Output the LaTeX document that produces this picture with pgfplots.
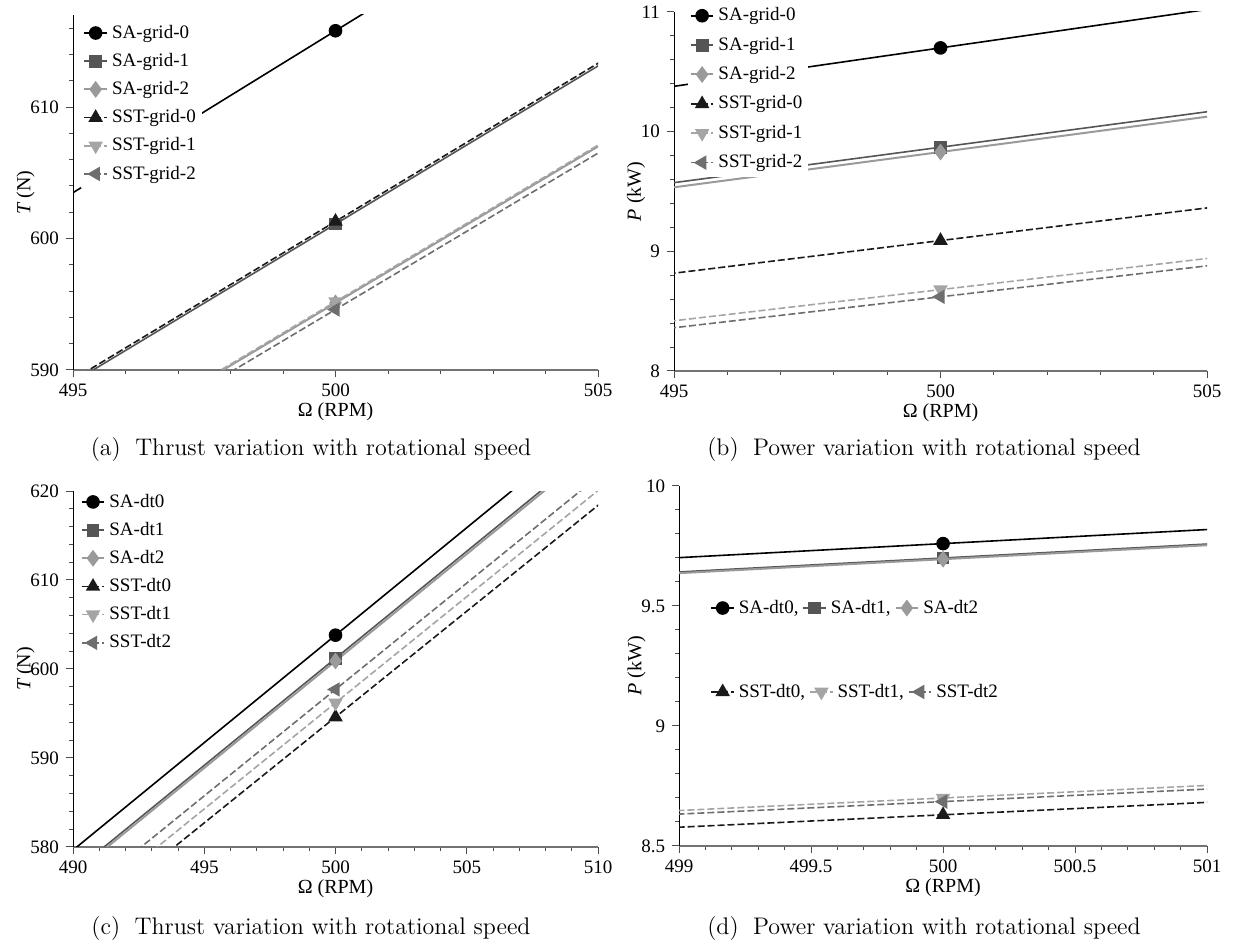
\documentclass[border=0pt]{standalone}
\usepackage{pgfplots}
\pgfplotsset{compat=1.18}
\usepackage{fontspec}
\newfontfamily\tnr{Liberation Serif}

\definecolor{darkg}{HTML}{555555}
\definecolor{lightg}{HTML}{9A9A9A}
\definecolor{nblack}{HTML}{1A1A1A}
\definecolor{lightg2}{HTML}{A5A5A5}
\definecolor{midg}{HTML}{6E6E6E}

\pgfplotsset{
  every axis/.append style={
    scale only axis,
    axis x line=bottom, axis y line=left,
    axis line style={-},
    x axis line style={draw=black!55, line width=0.9pt},
    tick align=outside, major tick length=3.5pt, minor tick length=2pt,
    tick style={black!70, line width=0.5pt},
    tick label style={font=\tnr\fontsize{9.5}{11}\selectfont},
    label style={font=\tnr\fontsize{10}{12}\selectfont},
    xlabel style={yshift=4pt},
    ylabel style={yshift=-9pt},
    legend cell align=left,
    legend style={draw=none, fill=white, font=\tnr\fontsize{9.5}{11}\selectfont, row sep=2pt, inner sep=1pt},
  },
  legend image code/.code={\draw[mark repeat=2,mark phase=2] plot coordinates {(0cm,0cm) (0.2cm,0cm) (0.4cm,0cm)};},
  sa0/.style={black, line width=0.8pt, mark=*, mark size=3pt, mark options={solid, fill=black}},
  sa1/.style={darkg, line width=0.8pt, mark=square*, mark size=2.8pt, mark options={solid, fill=darkg}},
  sa2/.style={lightg, line width=1pt, mark=diamond*, mark size=3.4pt, mark options={solid, fill=lightg}},
  sst0/.style={nblack, line width=0.8pt, dash pattern=on 3.5pt off 1.5pt, mark=triangle*, mark size=3.4pt, mark options={solid, fill=nblack}},
  sst1/.style={lightg2, line width=0.8pt, dash pattern=on 3.5pt off 1.5pt, mark=triangle*, mark size=3.4pt, mark options={solid, fill=lightg2, rotate=180}},
  sst2/.style={midg, line width=0.8pt, dash pattern=on 3.5pt off 1.5pt, mark=triangle*, mark size=3.4pt, mark options={solid, fill=midg, rotate=90}},
  ln/.style={forget plot, mark=none},
}

\begin{document}
\begin{tikzpicture}
\path[use as bounding box] (0,0) rectangle (619pt,471.5pt);

% (a) thrust, grid study
\begin{axis}[
  at={(36.5pt,286.5pt)}, anchor=south west, width=262.5pt, height=177.5pt,
  xmin=495, xmax=505, ymin=590, ymax=617,
  xtick={495,500,505}, xticklabels={495,500,505},
  minor xtick={496,497,498,499,501,502,503,504},
  ytick={590,600,610}, yticklabels={590,600,610},
  minor ytick={592,594,596,598,602,604,606,608,612,614,616},
  xlabel={Ω (RPM)}, ylabel={{\itshape T} (N)},
  legend style={at={(0.015,0.99)}, anchor=north west},
]
\addplot[sa0,ln] coordinates {(480,566.54) (500,615.8) (520,665.06)};
\addplot[sa0] coordinates {(500,615.8)}; \addlegendentry{SA-grid-0}
\addplot[sa1,ln] coordinates {(480,553.01) (500,601.1) (520,649.19)};
\addplot[sa1] coordinates {(500,601.1)}; \addlegendentry{SA-grid-1}
\addplot[sa2,ln] coordinates {(480,547.49) (500,595.1) (520,642.71)};
\addplot[sa2] coordinates {(500,595.1)}; \addlegendentry{SA-grid-2}
\addplot[sst0,ln] coordinates {(480,553.20) (500,601.3) (520,649.40)};
\addplot[sst0] coordinates {(500,601.3)}; \addlegendentry{SST-grid-0}
\addplot[sst1,ln] coordinates {(480,547.58) (500,595.2) (520,642.82)};
\addplot[sst1] coordinates {(500,595.2)}; \addlegendentry{SST-grid-1}
\addplot[sst2,ln] coordinates {(480,547.03) (500,594.6) (520,642.17)};
\addplot[sst2] coordinates {(500,594.6)}; \addlegendentry{SST-grid-2}
\end{axis}

% (b) power, grid study
\begin{axis}[
  at={(337pt,286pt)}, anchor=south west, width=266.5pt, height=179.5pt,
  xmin=495, xmax=505, ymin=8, ymax=11,
  xtick={495,500,505}, xticklabels={495,500,505},
  minor xtick={496,497,498,499,501,502,503,504},
  ytick={8,9,10,11}, yticklabels={8,9,10,11},
  minor ytick={8.2,8.4,8.6,8.8,9.2,9.4,9.6,9.8,10.2,10.4,10.6,10.8},
  xlabel={Ω (RPM)}, ylabel={{\itshape P} (kW)},
  legend style={at={(0.025,1.03)}, anchor=north west, row sep=2.6pt},
]
\addplot[sa0,ln] coordinates {(480,9.416) (500,10.70) (520,11.984)};
\addplot[sa0] coordinates {(500,10.70)}; \addlegendentry{SA-grid-0}
\addplot[sa1,ln] coordinates {(480,8.6856) (500,9.87) (520,11.0544)};
\addplot[sa1] coordinates {(500,9.87)}; \addlegendentry{SA-grid-1}
\addplot[sa2,ln] coordinates {(480,8.6504) (500,9.83) (520,11.0096)};
\addplot[sa2] coordinates {(500,9.83)}; \addlegendentry{SA-grid-2}
\addplot[sst0,ln] coordinates {(480,7.9992) (500,9.09) (520,10.1808)};
\addplot[sst0] coordinates {(500,9.09)}; \addlegendentry{SST-grid-0}
\addplot[sst1,ln] coordinates {(480,7.6384) (500,8.68) (520,9.7216)};
\addplot[sst1] coordinates {(500,8.68)}; \addlegendentry{SST-grid-1}
\addplot[sst2,ln] coordinates {(480,7.5856) (500,8.62) (520,9.6544)};
\addplot[sst2] coordinates {(500,8.62)}; \addlegendentry{SST-grid-2}
\end{axis}

% (c) thrust, time step study
\begin{axis}[
  at={(36.5pt,48pt)}, anchor=south west, width=262.5pt, height=178pt,
  xmin=490, xmax=510, ymin=580, ymax=620,
  xtick={490,495,500,505,510}, xticklabels={490,495,500,505,510},
  minor xtick={491,492,493,494,496,497,498,499,501,502,503,504,506,507,508,509},
  ytick={580,590,600,610,620}, yticklabels={580,590,600,610,620},
  minor ytick={582,584,586,588,592,594,596,598,602,604,606,608,612,614,616,618},
  xlabel={Ω (RPM)}, ylabel={{\itshape T} (N)},
  legend style={at={(0.01,1.01)}, anchor=north west},
]
\addplot[sa0,ln] coordinates {(480,555.50) (500,603.8) (520,652.10)};
\addplot[sa0] coordinates {(500,603.8)}; \addlegendentry{SA-dt0}
\addplot[sa1,ln] coordinates {(480,553.10) (500,601.2) (520,649.30)};
\addplot[sa1] coordinates {(500,601.2)}; \addlegendentry{SA-dt1}
\addplot[sa2,ln] coordinates {(480,552.83) (500,600.9) (520,648.97)};
\addplot[sa2] coordinates {(500,600.9)}; \addlegendentry{SA-dt2}
\addplot[sst0,ln] coordinates {(480,547.03) (500,594.6) (520,642.17)};
\addplot[sst0] coordinates {(500,594.6)}; \addlegendentry{SST-dt0}
\addplot[sst1,ln] coordinates {(480,548.50) (500,596.2) (520,643.90)};
\addplot[sst1] coordinates {(500,596.2)}; \addlegendentry{SST-dt1}
\addplot[sst2,ln] coordinates {(480,549.88) (500,597.7) (520,645.52)};
\addplot[sst2] coordinates {(500,597.7)}; \addlegendentry{SST-dt2}
\end{axis}

% (d) power, time step study: SA series with axes
\begin{axis}[
  at={(339.5pt,48.5pt)}, anchor=south west, width=264pt, height=180pt,
  xmin=499, xmax=501, ymin=8.5, ymax=10,
  xtick={499,499.5,500,500.5,501}, xticklabels={499,499.5,500,500.5,501},
  minor xtick={499.1,499.2,499.3,499.4,499.6,499.7,499.8,499.9,500.1,500.2,500.3,500.4,500.6,500.7,500.8,500.9},
  ytick={8.5,9,9.5,10}, yticklabels={8.5,9,9.5,10},
  minor ytick={8.6,8.7,8.8,8.9,9.1,9.2,9.3,9.4,9.6,9.7,9.8,9.9},
  xlabel={Ω (RPM)}, ylabel={{\itshape P} (kW)},
  legend columns=3,
  legend style={at={(0.055,0.661)}, anchor=west},
]
\addplot[sa0,ln] coordinates {(480,8.5888) (500,9.76) (520,10.9312)};
\addplot[sa0] coordinates {(500,9.76)}; \addlegendentry{SA-dt0,}
\addplot[sa1,ln] coordinates {(480,8.536) (500,9.70) (520,10.864)};
\addplot[sa1] coordinates {(500,9.70)}; \addlegendentry{SA-dt1,}
\addplot[sa2,ln] coordinates {(480,8.5316) (500,9.695) (520,10.8584)};
\addplot[sa2] coordinates {(500,9.695)}; \addlegendentry{SA-dt2}
\end{axis}

% (d) SST series with their own legend
\begin{axis}[hide axis,
  at={(339.5pt,48.5pt)}, anchor=south west, width=264pt, height=180pt,
  xmin=499, xmax=501, ymin=8.5, ymax=10,
  legend columns=3,
  legend style={at={(0.055,0.428)}, anchor=west},
]
\addplot[sst0,ln] coordinates {(480,7.5944) (500,8.63) (520,9.6656)};
\addplot[sst0] coordinates {(500,8.63)}; \addlegendentry{SST-dt0,}
\addplot[sst1,ln] coordinates {(480,7.656) (500,8.70) (520,9.744)};
\addplot[sst1] coordinates {(500,8.70)}; \addlegendentry{SST-dt1,}
\addplot[sst2,ln] coordinates {(480,7.6428) (500,8.685) (520,9.7272)};
\addplot[sst2] coordinates {(500,8.685)}; \addlegendentry{SST-dt2}
\end{axis}

% captions
\node[font=\fontsize{12}{14}\selectfont] at (155.5pt,246.5pt) {(a)\hspace{0.6em}Thrust variation with rotational speed};
\node[font=\fontsize{12}{14}\selectfont] at (462pt,246.5pt) {(b)\hspace{0.6em}Power variation with rotational speed};
\node[font=\fontsize{12}{14}\selectfont] at (155.5pt,7pt) {(c)\hspace{0.6em}Thrust variation with rotational speed};
\node[font=\fontsize{12}{14}\selectfont] at (462pt,7pt) {(d)\hspace{0.6em}Power variation with rotational speed};
\end{tikzpicture}
\end{document}
